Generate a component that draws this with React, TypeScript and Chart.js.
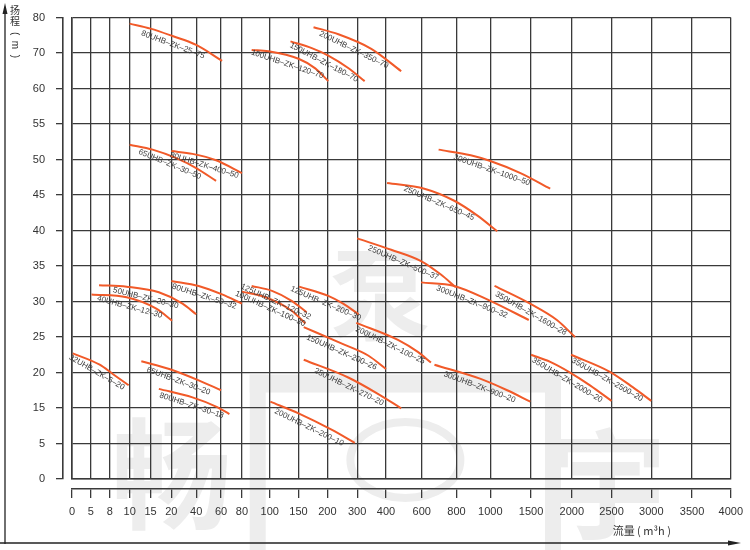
import React, { useEffect, useRef } from 'react';
import { Chart, registerables, LinearScale } from 'chart.js';

Chart.register(...registerables);

// Axis definitions (non-uniform scales, as printed on the original chart)
const X_TICKS = [0, 5, 8, 10, 15, 20, 40, 60, 80, 100, 150, 200, 300, 400, 600, 800, 1000, 1500, 2000, 2500, 3000, 3500, 4000];
const X_TICK_SPACING = [0, 19, 38, 58, 79, 100, 125, 150, 171, 199, 228, 257, 287, 316, 352, 387, 421, 462, 503, 543, 583, 624, 663];
const Y_TICKS = [0, 5, 15, 20, 25, 30, 35, 40, 45, 50, 55, 60, 70, 80];
const Y_TICK_SPACING = Y_TICKS.map((_, i) => i);

// Pump curves: flow (m³/h) and head (m)
const CURVE_LABELS = [
  '80UHB–ZK–25–75',
  '100UHB–ZK–120–70',
  '150UHB–ZK–180–70',
  '200UHB–ZK–350–70',
  '65UHB–ZK–30–50',
  '80UHB–ZK–400–50',
  '300UHB–ZK–1000–50',
  '250UHB–ZK–650–45',
  '250UHB–ZK–500–37',
  '50UHB–ZK–20–30',
  '40UHB–ZK–12–30',
  '80UHB–ZK–50–32',
  '125UHB–ZK–120–32',
  '100UHB–ZK–100–30',
  '125UHB–ZK–200–30',
  '150UHB–ZK–200–26',
  '200UHB–ZK–100–25',
  '300UHB–ZK–900–32',
  '350UHB–ZK–1600–28',
  '32UHB–ZK–5–20',
  '65UHB–ZK–30–20',
  '80UHB–ZK–30–18',
  '250UHB–ZK–270–20',
  '300UHB–ZK–900–20',
  '350UHB–ZK–2000–20',
  '350UHB–ZK–2500–20',
  '200UHB–ZK–200–10',
];

const CURVE_FLOW = [
  [10, 15, 21, 40, 61],
  [87, 99, 150, 179, 203],
  [136, 173, 203, 270, 326],
  [176, 237, 349, 485],
  [10, 15.5, 24, 40, 56],
  [20, 37, 56, 80],
  [697, 884, 1000, 1370, 1735],
  [406, 615, 787, 924, 1085],
  [300, 429, 596, 710, 796],
  [6.3, 9.7, 17, 29, 40],
  [5.1, 9.7, 16.4, 20.6],
  [20, 42, 61, 80],
  [87, 104, 138, 164],
  [80, 97, 138, 162],
  [151, 203, 253, 305],
  [159, 247, 338, 400],
  [297, 467, 578, 653],
  [596, 787, 1000, 1472],
  [1052, 1488, 1817, 2041],
  [0.2, 6.4, 8.3, 9.9],
  [12.8, 19.5, 42, 60],
  [17, 37, 56, 68],
  [159, 270, 372, 485],
  [673, 943, 1207, 1491],
  [1500, 1735, 1979, 2229, 2500],
  [1991, 2479, 2771, 3000],
  [101, 150, 214, 292],
];

const CURVE_HEAD = [
  [78.3, 76.9, 74.8, 72.3, 67.8],
  [70.9, 70.5, 68.4, 65.7, 62.1],
  [73.3, 71.4, 69.3, 65.8, 62.1],
  [77.3, 75.3, 71.2, 64.9],
  [52.1, 51.4, 50.2, 48.8, 47.0],
  [51.2, 50.8, 49.9, 48.1],
  [51.4, 50.6, 49.8, 48.1, 45.9],
  [46.7, 45.9, 44.2, 42.1, 39.9],
  [38.9, 37.3, 35.7, 33.8, 32.0],
  [32.3, 32.1, 31.3, 29.7, 28.2],
  [31.0, 30.6, 29.0, 27.3],
  [32.9, 32.2, 31.0, 29.7],
  [32.2, 31.5, 30.1, 28.5],
  [31.4, 30.6, 28.7, 26.9],
  [32.1, 30.8, 29.7, 28.2],
  [26.4, 24.1, 22.4, 20.5],
  [27.0, 24.6, 22.9, 21.4],
  [32.7, 32.2, 30.1, 27.4],
  [32.2, 29.7, 27.4, 25.0],
  [22.7, 21.1, 19.8, 18.2],
  [21.6, 20.5, 18.9, 17.5],
  [17.7, 16.5, 15.2, 13.3],
  [21.8, 19.3, 17.0, 14.9],
  [21.1, 19.1, 17.5, 15.9],
  [22.5, 21.5, 20.0, 18.2, 16.0],
  [22.5, 20.1, 17.9, 16.0],
  [15.9, 13.5, 8.9, 5.2],
];

// Faint background watermark characters
const WATERMARK_CHARS = ['畅', '泵', '宇'];

const FONT = '"Liberation Sans", Arial, sans-serif';
const CJK = '"Noto Sans CJK SC"';
const GRID = '#3a3a3a';
const CURVE_COLOR = '#f15a29';

function makePiecewiseScale(id: string, vals: number[], spacing: number[]) {
  const total = spacing[spacing.length - 1] - spacing[0];
  const toDec = (v: number) => {
    let i = 0;
    while (i < vals.length - 2 && v > vals[i + 1]) i++;
    const t = (v - vals[i]) / (vals[i + 1] - vals[i]);
    return (spacing[i] + t * (spacing[i + 1] - spacing[i]) - spacing[0]) / total;
  };
  const fromDec = (d: number) => {
    const p = spacing[0] + d * total;
    let i = 0;
    while (i < spacing.length - 2 && p > spacing[i + 1]) i++;
    const t = (p - spacing[i]) / (spacing[i + 1] - spacing[i]);
    return vals[i] + t * (vals[i + 1] - vals[i]);
  };
  const Base: any = LinearScale;
  class PiecewiseScale extends Base {
    static id = id;
    static defaults = Base.defaults;
    determineDataLimits() {
      (this as any).min = vals[0];
      (this as any).max = vals[vals.length - 1];
    }
    buildTicks() {
      return vals.map((value) => ({ value }));
    }
    getPixelForValue(value: number) {
      return (this as any).getPixelForDecimal(toDec(value));
    }
    getValueForPixel(pixel: number) {
      return fromDec((this as any).getDecimalForPixel(pixel));
    }
  }
  return PiecewiseScale;
}

const PwX = makePiecewiseScale('pwx', X_TICKS, X_TICK_SPACING);
const PwY = makePiecewiseScale('pwy', Y_TICKS, Y_TICK_SPACING);
Chart.register(PwX as any, PwY as any);

const watermarkPlugin = {
  id: 'watermark',
  beforeDraw(chart: any) {
    const ctx = chart.ctx;
    const xs = chart.scales.x;
    const ys = chart.scales.y;
    ctx.save();
    ctx.fillStyle = '#ededed';
    ctx.textAlign = 'center';
    ctx.textBaseline = 'middle';
    ctx.font = `bold 120px ${CJK}`;
    ctx.fillText(WATERMARK_CHARS[0], xs.getPixelForValue(20), ys.getPixelForValue(0) - 5);
    ctx.fillText(WATERMARK_CHARS[2], xs.getPixelForValue(2500) - 5, ys.getPixelForValue(0) + 5);
    ctx.font = `bold 100px ${CJK}`;
    ctx.fillText(WATERMARK_CHARS[1], xs.getPixelForValue(380), ys.getPixelForValue(31));
    // central logo block
    const l = xs.getPixelForValue(100) - 20;
    const r = xs.getPixelForValue(1500) + 30;
    const t = ys.getPixelForValue(20) + 2;
    ctx.fillRect(l, t, r - l, 18);
    ctx.fillRect(l, t, 16, chart.height - t);
    ctx.fillRect(r - 16, t, 16, chart.height - t);
    ctx.strokeStyle = '#ededed';
    ctx.lineWidth = 8;
    ctx.beginPath();
    ctx.ellipse((l + r) / 2, chart.height - 90, 55, 38, 0, 0, Math.PI * 2);
    ctx.stroke();
    ctx.restore();
  },
};

const curveLabelPlugin = {
  id: 'curveLabels',
  afterDatasetsDraw(chart: any) {
    const ctx = chart.ctx;
    chart.data.datasets.forEach((ds: any, di: number) => {
      const meta = chart.getDatasetMeta(di);
      const pts = meta.data.map((p: any) => ({ x: p.x, y: p.y }));
      if (pts.length < 2) return;
      const yAt = (x: number) => {
        if (x <= pts[0].x) return pts[0].y;
        for (let i = 0; i < pts.length - 1; i++) {
          if (x <= pts[i + 1].x) {
            const t = (x - pts[i].x) / (pts[i + 1].x - pts[i].x);
            return pts[i].y + t * (pts[i + 1].y - pts[i].y);
          }
        }
        return pts[pts.length - 1].y;
      };
      const x0 = pts[0].x;
      const x1 = pts[pts.length - 1].x;
      const cx = (x0 + x1) / 2;
      const w = (x1 - x0) / 4;
      const ang = Math.atan2(yAt(cx + w) - yAt(cx - w), 2 * w);
      const cy = yAt(cx);
      const off = 8;
      ctx.save();
      ctx.translate(cx - Math.sin(ang) * off, cy + Math.cos(ang) * off);
      ctx.rotate(ang);
      ctx.font = `8px ${FONT}`;
      ctx.fillStyle = '#3a3a3a';
      ctx.textAlign = 'center';
      ctx.textBaseline = 'middle';
      ctx.fillText(ds.label, 0, 0);
      ctx.restore();
    });
  },
};

const decorPlugin = {
  id: 'decor',
  afterDraw(chart: any) {
    const ctx = chart.ctx;
    const H = chart.height;
    const W = chart.width;
    ctx.save();
    ctx.strokeStyle = '#222';
    ctx.fillStyle = '#222';
    ctx.lineWidth = 1.3;
    // vertical arrow (head axis)
    ctx.beginPath();
    ctx.moveTo(5, H - 6);
    ctx.lineTo(5, 12);
    ctx.stroke();
    ctx.beginPath();
    ctx.moveTo(5, 3);
    ctx.lineTo(2.5, 14);
    ctx.lineTo(7.5, 14);
    ctx.closePath();
    ctx.fill();
    // horizontal arrow (flow axis)
    ctx.beginPath();
    ctx.moveTo(0, H - 7);
    ctx.lineTo(W - 18, H - 7);
    ctx.stroke();
    ctx.beginPath();
    ctx.moveTo(W - 9, H - 7);
    ctx.lineTo(W - 22, H - 9.5);
    ctx.lineTo(W - 22, H - 4.5);
    ctx.closePath();
    ctx.fill();

    // vertical title 扬程（m）
    ctx.fillStyle = '#333';
    ctx.textAlign = 'center';
    ctx.textBaseline = 'middle';
    ctx.font = `10px ${CJK}, ${FONT}`;
    ctx.fillText('扬', 15, 10);
    ctx.fillText('程', 15, 21);
    ctx.save();
    ctx.translate(15, 45);
    ctx.rotate(Math.PI / 2);
    ctx.font = `10px ${FONT}`;
    ctx.fillText('(  m  )', 0, 0);
    ctx.restore();

    // x title
    const x2 = chart.scales.x2;
    ctx.font = `11px ${CJK}, ${FONT}`;
    ctx.textAlign = 'center';
    ctx.fillText('流量 ( m³h )', chart.chartArea.right - 89, x2.bottom - 19);
    ctx.restore();
  },
};

export default function App() {
  const ref = useRef<HTMLCanvasElement | null>(null);

  useEffect(() => {
    if (!ref.current) return;
    const datasets = CURVE_LABELS.map((label, i) => ({
      label,
      data: CURVE_FLOW[i].map((q, j) => ({ x: q, y: CURVE_HEAD[i][j] })),
      borderColor: CURVE_COLOR,
      borderWidth: 2,
      pointRadius: 0,
      fill: false,
      cubicInterpolationMode: 'monotone' as const,
      xAxisID: 'x',
      yAxisID: 'y',
    }));

    const tickFont = { family: FONT, size: 11 };
    const chart = new Chart(ref.current, {
      type: 'line',
      data: { datasets },
      options: {
        animation: false,
        responsive: true,
        maintainAspectRatio: false,
        layout: { padding: { top: 8, right: 15, left: 0, bottom: 0 } },
        plugins: { legend: { display: false }, tooltip: { enabled: false } },
        scales: {
          x: {
            type: 'pwx' as any,
            position: 'bottom',
            weight: 0,
            grid: { color: GRID, lineWidth: 1.3, drawTicks: true, tickLength: 10, tickColor: 'rgba(0,0,0,0)' },
            border: { display: true, color: GRID, width: 1.6 },
            ticks: { display: false, autoSkip: false },
            afterFit: (s: any) => { s.height = 10; },
          },
          x2: {
            type: 'pwx' as any,
            position: 'bottom',
            weight: 1,
            grid: { drawOnChartArea: false, tickLength: 9, tickColor: GRID, lineWidth: 1.3 },
            border: { display: true, color: GRID, width: 1.6 },
            ticks: {
              autoSkip: false,
              maxRotation: 0,
              padding: 7,
              color: '#333',
              font: tickFont,
              callback: (v: any) => String(v),
            },
            afterFit: (s: any) => { s.height = 61; },
          },
          y: {
            type: 'pwy' as any,
            position: 'left',
            weight: 0,
            grid: { color: GRID, lineWidth: 1.3, drawTicks: true, tickLength: 9, tickColor: 'rgba(0,0,0,0)' },
            border: { display: true, color: GRID, width: 1.6 },
            ticks: { display: false, autoSkip: false },
            afterFit: (s: any) => { s.width = 9; },
          },
          y2: {
            type: 'pwy' as any,
            position: 'left',
            weight: 1,
            grid: { drawOnChartArea: false, tickLength: 7, tickColor: GRID, lineWidth: 1.3 },
            border: { display: true, color: GRID, width: 1.6 },
            ticks: {
              autoSkip: false,
              padding: 11,
              color: '#333',
              font: tickFont,
              callback: (v: any) => String(v),
            },
            afterFit: (s: any) => { s.width = 63; },
          },
        },
      },
      plugins: [watermarkPlugin, curveLabelPlugin, decorPlugin],
    });
    return () => chart.destroy();
  }, []);

  return (
    <div style={{ position: 'fixed', left: 0, top: 0, width: 750, height: 550, background: '#fff' }}>
      <canvas ref={ref} />
    </div>
  );
}
